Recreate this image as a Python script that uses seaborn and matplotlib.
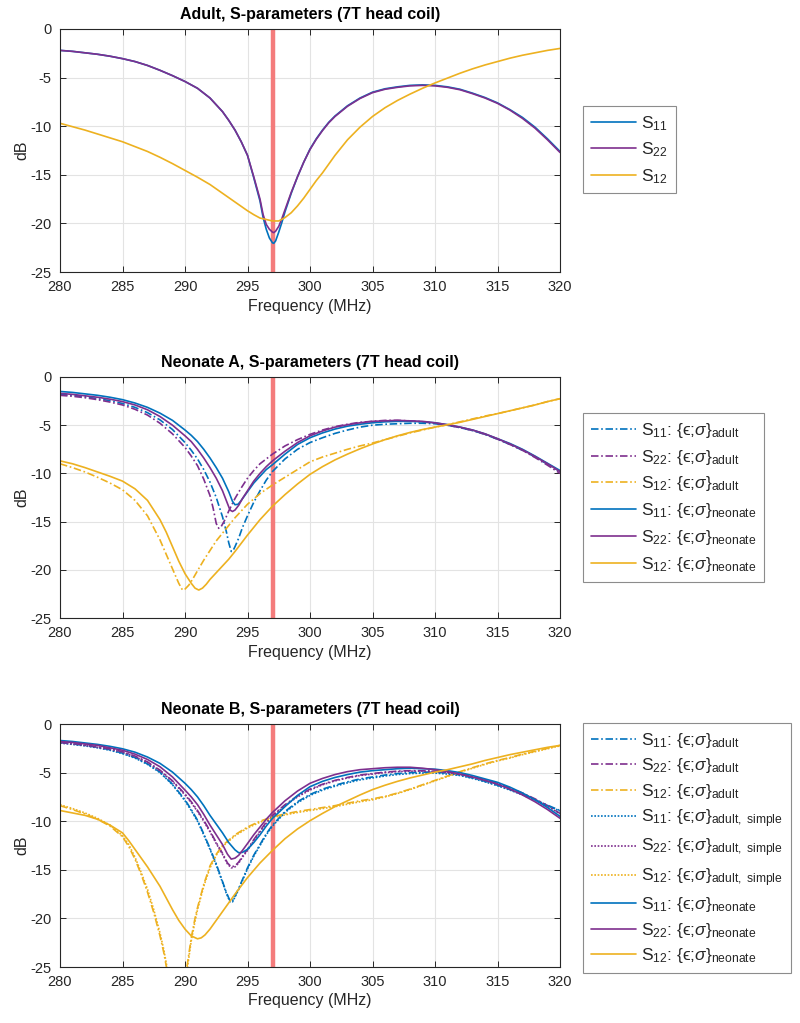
import numpy as np
import pandas as pd
import matplotlib
matplotlib.use('Agg')
import matplotlib.pyplot as plt
import seaborn as sns

# ---- values (frequency in MHz, value in dB) ----
# Adult
f_ad = [280, 281, 282, 283, 284, 285, 286, 287, 288, 289, 290, 291, 292, 293, 293.5, 294, 294.5, 295, 295.5,
        296, 296.25, 296.5, 296.75, 297, 297.1, 297.25, 297.5, 297.75, 298, 298.5, 299, 299.5, 300, 300.5,
        301, 301.5, 302, 303, 304, 305, 306, 307, 308, 309, 310, 311, 312, 313, 314, 315, 316, 317, 318,
        319, 320]
ad_s11 = [-2.2, -2.3, -2.45, -2.6, -2.8, -3.05, -3.35, -3.75, -4.25, -4.8, -5.4, -6.1, -7.1, -8.5, -9.4,
          -10.4, -11.6, -13.0, -15.3, -17.7, -19.4, -20.6, -21.5, -22.0, -22.05, -21.8, -20.9, -19.9, -18.8,
          -16.9, -15.2, -13.7, -12.35, -11.3, -10.4, -9.6, -8.95, -7.9, -7.1, -6.5, -6.15, -5.95, -5.8, -5.75,
          -5.8, -5.95, -6.2, -6.6, -7.05, -7.6, -8.3, -9.1, -10.1, -11.3, -12.6]
ad_s22 = [-2.2, -2.3, -2.45, -2.6, -2.8, -3.05, -3.35, -3.75, -4.25, -4.8, -5.4, -6.1, -7.1, -8.5, -9.4,
          -10.4, -11.6, -13.0, -15.2, -17.5, -19.1, -20.1, -20.6, -20.9, -20.95, -20.8, -20.3, -19.5, -18.6,
          -16.8, -15.2, -13.7, -12.4, -11.35, -10.45, -9.65, -9.0, -7.95, -7.15, -6.55, -6.2, -6.0, -5.85,
          -5.8, -5.85, -6.0, -6.25, -6.65, -7.1, -7.65, -8.35, -9.2, -10.2, -11.4, -12.7]
f_ad_s12 = [280, 281, 282, 283, 284, 285, 286, 287, 288, 289, 290, 291, 292, 293, 294, 295, 295.5, 296, 296.5,
            297, 297.5, 298, 298.5, 299, 299.5, 300, 300.5, 301, 301.5, 302, 302.5, 303, 304, 305, 306, 307,
            308, 309, 310, 311, 312, 313, 314, 315, 316, 317, 318, 319, 320]
ad_s12 = [-9.7, -10.05, -10.4, -10.8, -11.2, -11.6, -12.1, -12.6, -13.2, -13.85, -14.55, -15.25, -16.0, -16.9,
          -17.8, -18.7, -19.1, -19.45, -19.6, -19.75, -19.75, -19.4, -18.9, -18.2, -17.4, -16.5, -15.6, -14.8,
          -13.9, -13.0, -12.2, -11.4, -10.1, -9.0, -8.1, -7.35, -6.7, -6.1, -5.55, -5.05, -4.55, -4.1, -3.7,
          -3.35, -3.0, -2.7, -2.45, -2.2, -2.0]

# Neonate A
f_na_s11a = [280, 281, 282, 283, 284, 285, 286, 287, 288, 289, 290, 290.5, 291, 291.5, 292, 292.5, 293, 293.3,
             293.5, 293.7, 293.85, 294, 294.3, 294.6, 295, 295.5, 296, 296.5, 297, 298, 299, 300, 301, 302, 303,
             304, 305, 306, 307, 308, 309, 310, 311, 312, 313, 314, 315, 316, 317, 318, 319, 320]
na_s11a = [-1.8, -1.9, -2.05, -2.25, -2.45, -2.75, -3.15, -3.7, -4.45, -5.45, -6.8, -7.6, -8.5, -9.6, -10.9,
           -12.5, -14.5, -16.0, -17.2, -18.1, -18.0, -17.6, -16.7, -15.6, -14.4, -13.0, -11.8, -10.7, -9.8, -8.5,
           -7.5, -6.8, -6.3, -5.85, -5.5, -5.2, -5.0, -4.9, -4.85, -4.8, -4.8, -4.85, -5.0, -5.25, -5.55, -5.95,
           -6.45, -7.0, -7.6, -8.3, -9.05, -9.8]
f_na_s22a = [280, 281, 282, 283, 284, 285, 286, 287, 288, 289, 290, 290.5, 291, 291.5, 292, 292.25, 292.5, 292.7,
             292.9, 293.2, 293.5, 294, 294.5, 295, 295.5, 296, 297, 298, 299, 300, 301, 302, 303, 304, 305, 306,
             307, 308, 309, 310, 311, 312, 313, 314, 315, 316, 317, 318, 319, 320]
na_s22a = [-1.9, -2.0, -2.15, -2.35, -2.6, -2.9, -3.35, -3.95, -4.8, -5.9, -7.3, -8.2, -9.2, -10.6, -12.3,
           -13.6, -15.2, -15.7, -15.5, -14.8, -13.9, -12.6, -11.5, -10.5, -9.7, -9.0, -8.0, -7.15, -6.5, -5.95,
           -5.5, -5.15, -4.9, -4.7, -4.6, -4.5, -4.5, -4.55, -4.65, -4.8, -5.0, -5.25, -5.55, -5.95, -6.45, -7.0,
           -7.6, -8.35, -9.15, -10.0]
f_na_s12a = [280, 281, 282, 283, 284, 285, 286, 287, 288, 288.5, 289, 289.5, 289.8, 290, 290.3, 290.6, 291,
             291.5, 292, 292.5, 293, 294, 295, 296, 297, 298, 299, 300, 301, 302, 303, 304, 305, 306, 307, 308,
             309, 310, 311, 312, 313, 314, 315, 316, 317, 318, 319, 320]
na_s12a = [-9.0, -9.4, -9.85, -10.4, -11.0, -11.7, -12.8, -14.4, -16.9, -18.4, -19.9, -21.4, -22.1, -22.0,
           -21.6, -21.0, -20.1, -19.0, -18.0, -17.0, -16.2, -14.6, -13.2, -12.1, -11.2, -10.4, -9.6, -8.8, -8.3,
           -7.9, -7.5, -7.15, -6.85, -6.5, -6.15, -5.8, -5.5, -5.2, -4.95, -4.65, -4.35, -4.05, -3.8, -3.5, -3.2,
           -2.9, -2.55, -2.25]
f_na_s11n = [280, 281, 282, 283, 284, 285, 286, 287, 288, 289, 290, 290.5, 291, 291.5, 292, 292.5, 293, 293.5,
             293.8, 294, 294.25, 294.5, 295, 295.5, 296, 296.5, 297, 298, 299, 300, 301, 302, 303, 304, 305, 306,
             307, 308, 309, 310, 311, 312, 313, 314, 315, 316, 317, 318, 319, 320]
na_s11n = [-1.5, -1.6, -1.75, -1.9, -2.1, -2.35, -2.7, -3.15, -3.75, -4.5, -5.5, -6.05, -6.7, -7.5, -8.4, -9.4,
           -10.5, -11.9, -12.9, -13.25, -13.2, -12.8, -11.9, -11.0, -10.3, -9.6, -9.1, -8.0, -7.0, -6.3, -5.8,
           -5.4, -5.1, -4.9, -4.75, -4.65, -4.6, -4.6, -4.65, -4.75, -4.95, -5.2, -5.5, -5.9, -6.4, -6.9, -7.5,
           -8.2, -8.95, -9.7]
f_na_s22n = [280, 281, 282, 283, 284, 285, 286, 287, 288, 289, 290, 290.5, 291, 291.5, 292, 292.5, 293, 293.3,
             293.6, 293.8, 294, 294.3, 294.6, 295, 295.5, 296, 296.5, 297, 298, 299, 300, 301, 302, 303, 304, 305,
             306, 307, 308, 309, 310, 311, 312, 313, 314, 315, 316, 317, 318, 319, 320]
na_s22n = [-1.7, -1.8, -1.95, -2.1, -2.3, -2.55, -2.9, -3.4, -4.1, -5.0, -6.1, -6.7, -7.5, -8.4, -9.4, -10.5,
           -11.8, -12.8, -13.8, -13.95, -13.8, -13.3, -12.6, -11.8, -10.8, -10.0, -9.3, -8.7, -7.7, -6.8, -6.1,
           -5.6, -5.2, -4.95, -4.75, -4.6, -4.55, -4.5, -4.55, -4.6, -4.75, -4.95, -5.2, -5.5, -5.9, -6.4, -6.95,
           -7.55, -8.25, -9.0, -9.8]
f_na_s12n = [280, 281, 282, 283, 284, 285, 286, 287, 288, 288.5, 289, 289.5, 290, 290.5, 290.8, 291.1, 291.4,
             291.7, 292, 292.5, 293, 293.5, 294, 295, 296, 297, 298, 299, 300, 301, 302, 303, 304, 305, 306, 307,
             308, 309, 310, 311, 312, 313, 314, 315, 316, 317, 318, 319, 320]
na_s12n = [-8.7, -9.0, -9.4, -9.85, -10.3, -10.8, -11.6, -12.8, -14.8, -16.1, -17.6, -19.1, -20.4, -21.4, -21.9,
           -22.1, -21.9, -21.5, -21.0, -20.3, -19.6, -18.9, -18.1, -16.4, -14.8, -13.4, -12.2, -11.1, -10.1, -9.3,
           -8.6, -8.0, -7.45, -6.95, -6.5, -6.1, -5.75, -5.45, -5.2, -4.95, -4.7, -4.4, -4.1, -3.8, -3.5, -3.2,
           -2.9, -2.55, -2.25]

# Neonate B
f_nb_s11 = [280, 281, 282, 283, 284, 285, 286, 287, 288, 289, 290, 290.5, 291, 291.5, 292, 292.5, 293, 293.3,
            293.6, 293.8, 294, 294.3, 294.6, 295, 295.5, 296, 296.5, 297, 298, 299, 300, 301, 302, 303, 304, 305,
            306, 307, 308, 309, 310, 311, 312, 313, 314, 315, 316, 317, 318, 319, 320]
nb_s11a = [-1.9, -2.05, -2.2, -2.4, -2.65, -3.0, -3.45, -4.1, -4.95, -6.2, -7.8, -8.8, -9.9, -11.3, -12.8,
           -14.4, -16.2, -17.3, -18.2, -18.2, -17.7, -16.9, -16.0, -14.8, -13.5, -12.4, -11.3, -10.4, -9.0, -8.0,
           -7.25, -6.7, -6.3, -5.95, -5.65, -5.45, -5.25, -5.1, -5.0, -4.95, -4.95, -5.05, -5.25, -5.55, -5.9,
           -6.3, -6.75, -7.25, -7.8, -8.35, -8.9]
nb_s11s = [-1.95, -2.1, -2.25, -2.45, -2.7, -3.05, -3.5, -4.15, -5.0, -6.25, -7.9, -8.9, -10.0, -11.4, -12.9,
           -14.5, -16.3, -17.4, -18.3, -18.3, -17.8, -17.0, -16.1, -14.9, -13.6, -12.5, -11.4, -10.5, -9.1, -8.1,
           -7.35, -6.8, -6.4, -6.05, -5.75, -5.55, -5.35, -5.2, -5.1, -5.05, -5.05, -5.15, -5.3, -5.6, -5.95,
           -6.35, -6.8, -7.3, -7.85, -8.4, -8.95]
f_nb_s22 = [280, 281, 282, 283, 284, 285, 286, 287, 288, 289, 290, 290.5, 291, 291.5, 292, 292.5, 293, 293.4,
            293.7, 294, 294.3, 294.6, 295, 295.5, 296, 296.5, 297, 298, 299, 300, 301, 302, 303, 304, 305, 306,
            307, 308, 309, 310, 311, 312, 313, 314, 315, 316, 317, 318, 319, 320]
nb_s22a = [-1.9, -2.0, -2.15, -2.35, -2.55, -2.85, -3.3, -3.9, -4.75, -5.85, -7.2, -8.0, -8.9, -9.9, -11.0,
           -12.2, -13.3, -14.3, -14.7, -14.6, -14.2, -13.6, -12.9, -11.9, -11.0, -10.1, -9.4, -8.3, -7.4, -6.7,
           -6.2, -5.8, -5.5, -5.25, -5.1, -4.95, -4.85, -4.8, -4.8, -4.85, -4.95, -5.15, -5.4, -5.75, -6.1, -6.6,
           -7.1, -7.7, -8.4, -9.2]
nb_s22s = [-1.95, -2.05, -2.2, -2.4, -2.6, -2.9, -3.35, -3.95, -4.8, -5.9, -7.3, -8.1, -9.0, -10.0, -11.1,
           -12.3, -13.4, -14.4, -14.8, -14.7, -14.3, -13.7, -13.0, -12.0, -11.1, -10.2, -9.5, -8.4, -7.5, -6.8,
           -6.25, -5.85, -5.55, -5.3, -5.15, -5.0, -4.9, -4.85, -4.85, -4.9, -5.0, -5.2, -5.45, -5.8, -6.15,
           -6.65, -7.15, -7.75, -8.45, -9.25]
f_nb_s12 = [280, 281, 282, 283, 284, 285, 285.5, 286, 286.5, 287, 287.5, 288, 288.3, 288.6, 289, 289.5, 289.9,
            290.2, 290.5, 290.8, 291, 291.5, 292, 292.5, 293, 294, 295, 296, 297, 298, 299, 300, 301, 302, 303,
            304, 305, 306, 307, 308, 309, 310, 311, 312, 313, 314, 315, 316, 317, 318, 319, 320]
nb_s12a = [-8.4, -8.8, -9.25, -9.8, -10.5, -11.6, -12.6, -13.9, -15.5, -17.3, -19.4, -21.8, -23.5, -25.6, -29.0,
           -33.0, -27.0, -24.6, -22.0, -20.0, -18.9, -16.5, -14.6, -13.4, -12.5, -11.4, -10.6, -10.0, -9.55,
           -9.25, -9.0, -8.8, -8.6, -8.4, -8.15, -7.9, -7.7, -7.45, -7.1, -6.7, -6.25, -5.8, -5.35, -4.9, -4.5,
           -4.1, -3.75, -3.45, -3.1, -2.8, -2.5, -2.2]
nb_s12s = [-8.3, -8.7, -9.15, -9.7, -10.4, -11.5, -12.4, -13.7, -15.3, -17.0, -19.1, -21.5, -23.2, -25.3, -28.7,
           -33.0, -27.5, -25.0, -22.3, -20.3, -19.1, -16.7, -14.8, -13.5, -12.6, -11.5, -10.7, -10.1, -9.65,
           -9.35, -9.1, -8.9, -8.7, -8.5, -8.25, -8.0, -7.8, -7.5, -7.15, -6.75, -6.3, -5.85, -5.4, -4.95, -4.55,
           -4.15, -3.8, -3.5, -3.15, -2.85, -2.55, -2.25]
f_nb_s11n = [280, 281, 282, 283, 284, 285, 286, 287, 288, 289, 290, 290.5, 291, 291.5, 292, 292.5, 293, 293.5,
             294, 294.3, 294.6, 295, 295.5, 296, 296.5, 297, 298, 299, 300, 301, 302, 303, 304, 305, 306, 307,
             308, 309, 310, 311, 312, 313, 314, 315, 316, 317, 318, 319, 320]
nb_s11n = [-1.7, -1.8, -1.95, -2.1, -2.3, -2.55, -2.9, -3.4, -4.05, -4.95, -6.1, -6.75, -7.5, -8.4, -9.4,
           -10.3, -11.2, -12.2, -12.95, -13.25, -13.2, -12.9, -12.2, -11.4, -10.5, -9.7, -8.5, -7.35, -6.45,
           -5.9, -5.5, -5.2, -4.95, -4.8, -4.7, -4.6, -4.55, -4.6, -4.65, -4.8, -5.0, -5.3, -5.65, -6.0, -6.5,
           -7.1, -7.8, -8.6, -9.5]
f_nb_s22n = [280, 281, 282, 283, 284, 285, 286, 287, 288, 289, 290, 290.5, 291, 291.5, 292, 292.5, 293, 293.4,
             293.7, 294, 294.3, 294.6, 295, 295.5, 296, 296.5, 297, 298, 299, 300, 301, 302, 303, 304, 305, 306,
             307, 308, 309, 310, 311, 312, 313, 314, 315, 316, 317, 318, 319, 320]
nb_s22n = [-1.8, -1.9, -2.05, -2.2, -2.45, -2.7, -3.1, -3.65, -4.4, -5.45, -6.8, -7.5, -8.3, -9.3, -10.4,
           -11.4, -12.4, -13.4, -13.9, -13.8, -13.5, -13.0, -12.3, -11.4, -10.6, -9.8, -9.1, -7.9, -6.9, -6.1,
           -5.6, -5.2, -4.9, -4.7, -4.6, -4.5, -4.45, -4.45, -4.55, -4.7, -4.9, -5.15, -5.45, -5.8, -6.2, -6.7,
           -7.3, -8.0, -8.8, -9.7]
f_nb_s12n = [280, 281, 282, 283, 284, 285, 285.5, 286, 286.5, 287, 287.5, 288, 288.5, 289, 289.5, 290, 290.5,
             291, 291.3, 291.6, 292, 292.5, 293, 293.5, 294, 295, 296, 297, 298, 299, 300, 301, 302, 303, 304,
             305, 306, 307, 308, 309, 310, 311, 312, 313, 314, 315, 316, 317, 318, 319, 320]
nb_s12n = [-8.9, -9.15, -9.4, -9.8, -10.4, -11.2, -12.0, -12.9, -13.8, -14.7, -15.7, -16.7, -17.9, -19.1,
           -20.2, -21.1, -21.8, -22.1, -22.0, -21.7, -21.1, -20.2, -19.3, -18.4, -17.5, -15.8, -14.3, -13.0,
           -11.8, -10.8, -9.95, -9.2, -8.5, -7.9, -7.3, -6.75, -6.3, -5.9, -5.55, -5.25, -4.95, -4.7, -4.4,
           -4.1, -3.75, -3.45, -3.15, -2.9, -2.65, -2.4, -2.2]

titles = ['Adult, S-parameters (7T head coil)',
          'Neonate A, S-parameters (7T head coil)',
          'Neonate B, S-parameters (7T head coil)']
f_op = 297
xticks = [280, 285, 290, 295, 300, 305, 310, 315, 320]
yticks = [0, -5, -10, -15, -20, -25]

C_BLUE = '#0072BD'
C_PURP = '#7E2F8E'
C_YELL = '#EDB120'
DASHDOT = (0, (4.5, 1.6, 1.0, 1.6))
DOT = (0, (1.0, 1.0))


def lab(s, sub=None):
    if sub is None:
        return 'S$_{%s}$' % s
    return 'S$_{%s}$: {\u03f5;$\\sigma$}$_{\\rm %s}$' % (s, sub)


panels = [
    [(f_ad, ad_s11, C_BLUE, '-', lab('11')),
     (f_ad, ad_s22, C_PURP, '-', lab('22')),
     (f_ad_s12, ad_s12, C_YELL, '-', lab('12'))],
    [(f_na_s11a, na_s11a, C_BLUE, DASHDOT, lab('11', 'adult')),
     (f_na_s22a, na_s22a, C_PURP, DASHDOT, lab('22', 'adult')),
     (f_na_s12a, na_s12a, C_YELL, DASHDOT, lab('12', 'adult')),
     (f_na_s11n, na_s11n, C_BLUE, '-', lab('11', 'neonate')),
     (f_na_s22n, na_s22n, C_PURP, '-', lab('22', 'neonate')),
     (f_na_s12n, na_s12n, C_YELL, '-', lab('12', 'neonate'))],
    [(f_nb_s11, nb_s11a, C_BLUE, DASHDOT, lab('11', 'adult')),
     (f_nb_s22, nb_s22a, C_PURP, DASHDOT, lab('22', 'adult')),
     (f_nb_s12, nb_s12a, C_YELL, DASHDOT, lab('12', 'adult')),
     (f_nb_s11, nb_s11s, C_BLUE, DOT, lab('11', 'adult,\\ simple')),
     (f_nb_s22, nb_s22s, C_PURP, DOT, lab('22', 'adult,\\ simple')),
     (f_nb_s12, nb_s12s, C_YELL, DOT, lab('12', 'adult,\\ simple')),
     (f_nb_s11n, nb_s11n, C_BLUE, '-', lab('11', 'neonate')),
     (f_nb_s22n, nb_s22n, C_PURP, '-', lab('22', 'neonate')),
     (f_nb_s12n, nb_s12n, C_YELL, '-', lab('12', 'neonate'))],
]

sns.set_theme(style='whitegrid')
plt.rcParams['font.family'] = ['Liberation Sans', 'DejaVu Sans']
plt.rcParams['mathtext.fontset'] = 'custom'
plt.rcParams['mathtext.rm'] = 'Liberation Sans'
plt.rcParams['mathtext.it'] = 'Liberation Sans:italic'
plt.rcParams['mathtext.bf'] = 'Liberation Sans:bold'
plt.rcParams['mathtext.fallback'] = 'stixsans'
plt.rcParams['axes.unicode_minus'] = False

fig = plt.figure(figsize=(8, 10.23), dpi=100)
# axes boxes in pixels: (top, bottom) of each panel, x from 60 to 560
boxes = [(29, 272), (377, 618), (724, 967)]
legend_tops = [106, 413, 723]
legend_gaps = [0.45, 0.45, 0.38]
W, H = 800, 1023

for i, series in enumerate(panels):
    top, bot = boxes[i]
    ax = fig.add_axes([60 / W, 1 - bot / H, 500 / W, (bot - top) / H])
    ax.set_facecolor('white')
    ax.axvline(f_op, color='#F47C7C', lw=3.2, zorder=1.5)
    for f, v, c, ls, lb in series:
        df = pd.DataFrame({'Frequency (MHz)': f, 'dB': v})
        sns.lineplot(data=df, x='Frequency (MHz)', y='dB', color=c, linestyle=ls, lw=1.2,
                     label=lb, ax=ax, zorder=2)
    ax.set_xlim(280, 320)
    ax.set_ylim(-25, 0)
    ax.set_xticks(xticks)
    ax.set_yticks(yticks)
    ax.grid(True, color='#E3E3E3', lw=0.8)
    for sp in ax.spines.values():
        sp.set_color('#262626')
        sp.set_linewidth(0.8)
    ax.tick_params(direction='in', length=4, width=0.7, colors='#262626', labelsize=10.5,
                   top=True, right=True, bottom=True, left=True, pad=6)
    ax.set_title(titles[i], fontsize=11.5, fontweight='bold', color='black', pad=7)
    ax.set_xlabel('Frequency (MHz)', fontsize=11.5, color='#262626', labelpad=3)
    ax.set_ylabel('dB', fontsize=11.5, color='#262626', labelpad=1)
    ax.legend(loc='upper left', bbox_to_anchor=(583 / W, 1 - legend_tops[i] / H),
              bbox_transform=fig.transFigure, borderaxespad=0, fontsize=12.5,
              frameon=True, fancybox=False, edgecolor='#8C8C8C', framealpha=1,
              handlelength=2.6, handletextpad=0.3, labelspacing=legend_gaps[i], borderpad=0.45)
    ax.get_legend().get_frame().set_linewidth(0.8)

fig.savefig('out.png', dpi=100, facecolor='white')
